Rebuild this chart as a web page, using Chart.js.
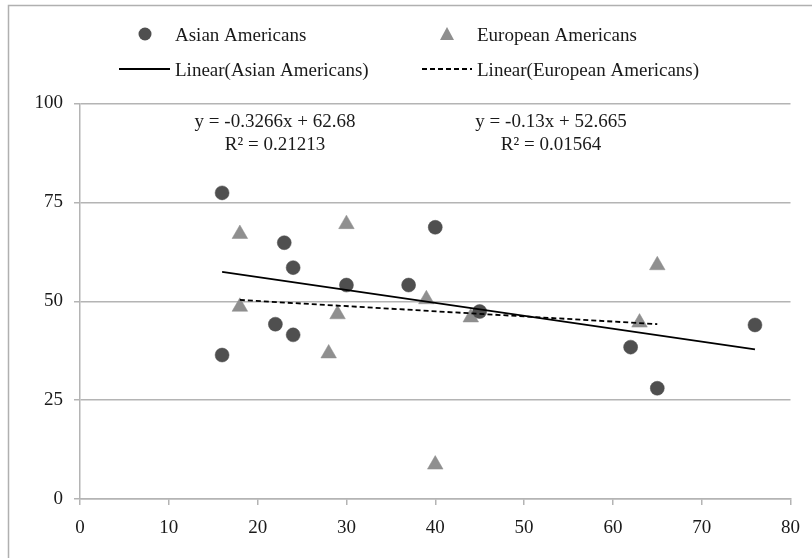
<!DOCTYPE html>
<html>
<head>
<meta charset="utf-8">
<script src="https://cdn.jsdelivr.net/npm/chart.js"></script>
<style>
    html, body { margin: 0; padding: 0; background: #ffffff; }
    #wrap { width: 812px; height: 558px; position: relative; }
</style>
</head>
<body>
<div id="wrap"><canvas id="chart"></canvas></div>
<script>
// Data
const asianX = [16, 16, 22, 23, 24, 24, 30, 37, 40, 45, 62, 65, 76];
const asianY = [77.4, 36.4, 44.2, 64.8, 58.5, 41.5, 54.1, 54.1, 68.7, 47.4, 38.4, 28.0, 44.0];
const europeanX = [18, 18, 28, 29, 30, 39, 40, 44, 63, 65];
const europeanY = [67.0, 48.6, 36.8, 46.7, 69.5, 50.5, 8.7, 45.9, 44.6, 59.1];

// Trend line equations shown on the chart
const asianSlope = -0.3266, asianIntercept = 62.68, asianR2 = '0.21213';
const europeanSlope = -0.13, europeanIntercept = 52.665, europeanR2 = '0.01564';

const xTicks = [0, 10, 20, 30, 40, 50, 60, 70, 80];
const yTicks = [0, 25, 50, 75, 100];

const FONT = '"Liberation Serif", "Times New Roman", serif';
const TEXT = '#1a1a1a';
const GRID = '#b4b4b4';
const DARK = '#4f4f4f';
const LIGHT = '#8f8f8f';

const toPoints = (xs, ys) => xs.map((x, i) => ({ x: x, y: ys[i] }));
const trend = (xs, m, b) => {
    const lo = Math.min(...xs), hi = Math.max(...xs);
    return [{ x: lo, y: m * lo + b }, { x: hi, y: m * hi + b }];
};

const fmtEq = (m, b) => 'y = ' + m + 'x + ' + b;

// legend + equations + outer frame drawn by hand to follow the reference layout
const decorPlugin = {
    id: 'decor',
    beforeDraw(chart) {
        const ctx = chart.ctx;
        ctx.save();
        ctx.strokeStyle = '#b0b0b0';
        ctx.lineWidth = 1.5;
        ctx.strokeRect(8.5, 5.5, 900, 700);
        ctx.restore();
    },
    afterDraw(chart) {
        const ctx = chart.ctx;
        ctx.save();
        ctx.font = '19px ' + FONT;
        ctx.fillStyle = TEXT;
        ctx.textBaseline = 'middle';
        ctx.textAlign = 'left';

        // row 1: markers
        ctx.fillStyle = DARK;
        ctx.beginPath();
        ctx.arc(145, 34, 6.5, 0, Math.PI * 2);
        ctx.fill();
        ctx.fillStyle = LIGHT;
        ctx.beginPath();
        ctx.moveTo(447, 27);
        ctx.lineTo(454, 40);
        ctx.lineTo(440, 40);
        ctx.closePath();
        ctx.fill();

        ctx.fillStyle = TEXT;
        ctx.fillText('Asian Americans', 175, 36);
        ctx.fillText('European Americans', 477, 36);

        // row 2: trend lines
        ctx.strokeStyle = '#000000';
        ctx.lineWidth = 1.8;
        ctx.beginPath();
        ctx.moveTo(119, 69);
        ctx.lineTo(170, 69);
        ctx.stroke();
        ctx.setLineDash([5, 3]);
        ctx.beginPath();
        ctx.moveTo(422, 69);
        ctx.lineTo(472, 69);
        ctx.stroke();
        ctx.setLineDash([]);
        ctx.fillText('Linear(Asian Americans)', 175, 71);
        ctx.fillText('Linear(European Americans)', 477, 71);

        // equations
        ctx.textAlign = 'center';
        ctx.fillText(fmtEq(asianSlope, asianIntercept), 275, 122);
        ctx.fillText('R\u00B2 = ' + asianR2, 275, 145);
        ctx.fillText(fmtEq(europeanSlope, europeanIntercept), 551, 122);
        ctx.fillText('R\u00B2 = ' + europeanR2, 551, 145);
        ctx.restore();
    }
};

new Chart(document.getElementById('chart'), {
    type: 'scatter',
    data: {
        datasets: [
            {
                label: 'Linear(Asian Americans)',
                data: trend(asianX, asianSlope, asianIntercept),
                showLine: true,
                borderColor: '#000000',
                borderWidth: 1.8,
                pointRadius: 0,
                order: 0
            },
            {
                label: 'Linear(European Americans)',
                data: trend(europeanX, europeanSlope, europeanIntercept),
                showLine: true,
                borderColor: '#000000',
                borderWidth: 1.8,
                borderDash: [5, 3],
                pointRadius: 0,
                order: 0
            },
            {
                label: 'Asian Americans',
                data: toPoints(asianX, asianY),
                pointStyle: 'circle',
                pointRadius: 7,
                backgroundColor: DARK,
                borderColor: DARK,
                borderWidth: 0.5,
                order: 1
            },
            {
                label: 'European Americans',
                data: toPoints(europeanX, europeanY),
                pointStyle: 'triangle',
                pointRadius: 9,
                backgroundColor: LIGHT,
                borderColor: LIGHT,
                borderWidth: 0.5,
                order: 2
            }
        ]
    },
    options: {
        responsive: true,
        maintainAspectRatio: false,
        animation: false,
        layout: { padding: { left: 0, top: 103.5, right: 21.3, bottom: 0 } },
        plugins: { legend: { display: false }, tooltip: { enabled: false } },
        scales: {
            x: {
                type: 'linear',
                min: 0,
                max: 80,
                afterBuildTicks: s => { s.ticks = xTicks.map(v => ({ value: v })); },
                afterFit: s => { s.height = 59; },
                grid: { drawOnChartArea: false, drawTicks: true, tickLength: 6, color: GRID, lineWidth: 1.5 },
                border: { color: GRID, width: 1.5 },
                ticks: { color: TEXT, font: { family: FONT, size: 19 }, padding: 12, maxRotation: 0 }
            },
            y: {
                type: 'linear',
                min: 0,
                max: 100,
                afterBuildTicks: s => { s.ticks = yTicks.map(v => ({ value: v })); },
                afterFit: s => { s.width = 80; },
                grid: { drawTicks: true, tickLength: 6, color: GRID, lineWidth: 1.5 },
                border: { color: GRID, width: 1.5 },
                ticks: { color: TEXT, font: { family: FONT, size: 19 }, padding: 11 }
            }
        }
    },
    plugins: [decorPlugin]
});
</script>
</body>
</html>
